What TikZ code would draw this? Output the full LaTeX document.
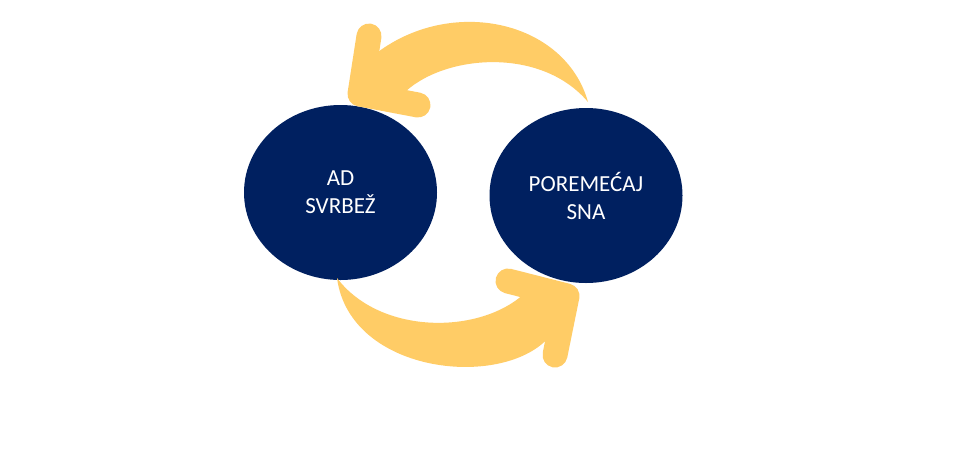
\documentclass[tikz,border=0pt]{standalone}
\usepackage{fontspec}
\setmainfont{Carlito}
\usetikzlibrary{shapes.geometric}
\definecolor{navy}{HTML}{002060}
\definecolor{gold}{HTML}{FFCC66}
\tikzset{
  bubble/.style={ellipse, fill=navy, draw=none, inner sep=0pt,
    minimum width=193pt, minimum height=175pt, text=white, align=center,
    font=\fontsize{23pt}{28pt}\selectfont},
  chevron/.style={draw=gold, line width=25pt, line join=round, line cap=round},
  arrowbody/.style={fill=gold, draw=none}
}
\begin{document}
\begin{tikzpicture}[x=1pt,y=-1pt]
  \useasboundingbox[fill=white] (0,0) rectangle (953,464);
  \node[bubble] (ad) at (340.5,192.5) {AD\\SVRBEŽ};
  \node[bubble] (sna) at (586,195.5) {POREMEĆAJ\\SNA};
  % top arrow: from sleep disorder back to itch
  \coordinate (t1) at (369,36);
  \coordinate (tc) at (360,94);
  \coordinate (t2) at (418,105);
  \coordinate (ttip) at (588,102);
  \fill[arrowbody] (ttip) .. controls (565,20) and (450,-5) .. (374,55)
     -- (tc) -- (402,95) .. controls (440,55) and (540,45) .. (ttip);
  \draw[chevron] (t1) -- (tc) -- (t2);
  % bottom arrow: from itch to sleep disorder
  \coordinate (b1) at (508,281);
  \coordinate (bc) at (567,296);
  \coordinate (b2) at (555,355);
  \coordinate (btip) at (337,278);
  \fill[arrowbody] (btip) .. controls (380,335) and (480,335) .. (525,293)
     -- (bc) -- (550,336) .. controls (505,390) and (350,375) .. (btip);
  \draw[chevron] (b1) -- (bc) -- (b2);
\end{tikzpicture}
\end{document}
